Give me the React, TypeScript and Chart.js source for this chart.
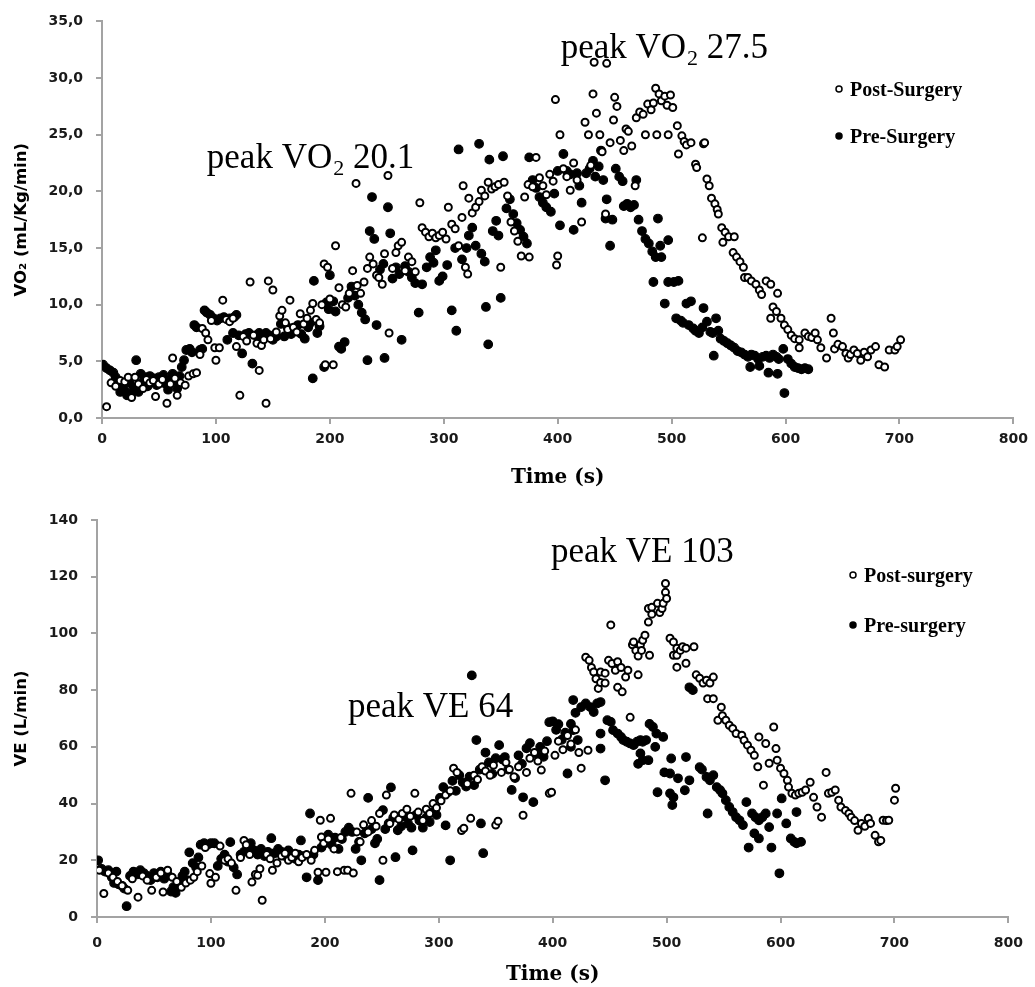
import React, { useEffect, useRef } from "react";
import { Chart, registerables } from "chart.js";

Chart.register(...registerables);

type P = [number, number];

// ---------- shared axis data ----------
const timeMin = 0;
const timeMax = 800;
const timeStep = 100;

// ---------- VO2 panel ----------
const vo2Min = 0;
const vo2Max = 35;
const vo2Step = 5;
const vo2TickLabels = ["0,0", "5,0", "10,0", "15,0", "20,0", "25,0", "30,0", "35,0"];
const vo2Title = "VO\u2082 (mL/Kg/min)";
const vo2Labels = ["Post-Surgery", "Pre-Surgery"];

const vo2Post: P[] = [
  [4,1.0],[8,3.1],[12,2.8],[16,3.3],[20,3.2],[23,3.6],[26,1.8],[29,3.6],[32,3.0],[36,2.6],[39,3.4],[42,3.1],[45,3.3],[47,1.9],[50,3.0],[53,3.4],[57,1.3],[60,3.0],[62,5.3],[64,3.5],[66,2.0],[69,3.1],[73,2.9],[76,3.7],[80,3.9],[83,4.0],[86,5.6],[88,7.9],[91,7.5],[93,6.9],[96,8.6],[99,6.2],[100,5.1],[103,6.2],[106,10.4],[109,8.7],[112,8.5],[115,8.8],[118,6.3],[121,2.0],[124,7.2],[127,6.8],[130,12.0],[133,7.3],[136,6.6],[138,4.2],[140,6.4],[142,6.9],[144,1.3],[146,12.1],[148,7.0],[150,11.3],[153,7.6],[156,9.0],[158,9.5],[161,8.4],[163,7.8],[165,10.4],[168,8.0],[171,7.6],[174,9.2],[177,8.3],[180,8.8],[183,9.5],[185,10.1],[188,8.7],[191,8.4],[193,10.0],[195,13.6],[196,4.7],[198,13.3],[200,10.5],[203,4.7],[205,15.2],[208,11.5],[211,10.0],[214,9.8],[217,11.0],[220,13.0],[223,20.7],[224,11.7],[227,11.0],[230,12.0],[233,13.2],[235,14.2],[238,13.6],[241,12.6],[243,12.4],[246,11.8],[248,14.5],[251,21.4],[252,7.5],[255,13.2],[258,14.6],[260,15.2],[263,15.5],[266,13.0],[269,14.2],[272,13.8],[275,12.9],[279,19.0],[281,16.8],[284,16.4],[287,16.0],[290,16.3],[293,15.9],[296,16.1],[299,16.4],[302,15.8],[304,18.6],[307,17.1],[310,16.7],[313,15.2],[316,17.7],[317,20.5],[319,13.3],[321,12.7],[322,19.4],[325,18.1],[328,18.6],[331,19.1],[333,20.1],[336,19.6],[339,20.8],[342,20.2],[345,20.4],[348,20.6],[350,13.3],[353,20.8],[356,19.6],[359,17.3],[362,16.5],[365,15.6],[368,14.3],[371,19.5],[374,20.6],[375,14.2],[378,20.4],[381,23.0],[384,21.2],[387,20.5],[390,19.7],[393,21.5],[396,20.9],[398,28.1],[399,13.5],[400,14.3],[402,25.0],[405,22.0],[408,21.3],[411,20.1],[414,22.5],[417,21.0],[421,17.3],[424,26.1],[427,25.0],[429,22.3],[431,28.6],[432,31.4],[434,26.9],[437,25.0],[439,23.5],[442,18.0],[443,31.3],[446,24.3],[449,26.3],[450,28.3],[452,27.5],[455,24.5],[458,23.6],[460,25.5],[462,25.3],[465,24.0],[468,20.5],[469,26.5],[472,27.0],[475,26.8],[477,25.0],[479,27.7],[482,27.2],[484,27.8],[486,29.1],[487,25.0],[489,28.6],[491,28.0],[494,28.4],[496,27.6],[497,25.0],[499,28.5],[501,27.4],[505,25.8],[506,23.3],[509,24.9],[511,24.4],[513,24.1],[517,24.3],[521,22.4],[522,22.1],[527,15.9],[528,24.2],[529,24.3],[531,21.1],[533,20.5],[535,19.4],[538,18.9],[540,18.4],[541,18.0],[544,16.8],[545,15.5],[547,16.4],[550,16.0],[554,14.6],[555,16.0],[557,14.2],[560,13.8],[563,13.3],[564,12.4],[567,12.4],[570,12.1],[574,11.8],[577,11.3],[579,10.9],[583,12.1],[587,11.8],[587,8.8],[589,9.8],[592,9.4],[593,11.0],[596,8.8],[599,8.2],[602,7.8],[605,7.3],[608,7.0],[612,6.9],[612,6.2],[617,7.5],[620,7.2],[623,7.1],[626,7.5],[628,6.9],[631,6.2],[636,5.3],[640,8.8],[642,7.5],[643,6.1],[646,6.5],[650,6.3],[653,5.7],[655,5.3],[657,5.6],[660,6.0],[663,5.7],[666,5.1],[669,5.8],[672,5.4],[675,6.0],[679,6.3],[682,4.7],[687,4.5],[691,6.0],[696,6.0],[698,6.3],[701,6.9]
];

const vo2Pre: P[] = [
  [1,4.7],[4,4.4],[7,4.2],[10,4.0],[12,3.6],[14,3.3],[16,2.3],[18,2.9],[20,2.4],[22,2.0],[24,3.1],[26,2.2],[28,2.7],[30,5.1],[32,2.3],[34,3.9],[36,3.2],[38,3.6],[40,2.8],[42,3.7],[44,3.3],[46,3.5],[48,2.9],[50,3.6],[52,3.2],[54,3.8],[56,3.0],[58,2.5],[60,3.4],[62,3.9],[64,3.3],[66,2.6],[68,3.7],[70,4.5],[72,5.1],[74,6.0],[77,6.1],[79,5.8],[81,8.2],[83,8.0],[86,6.0],[88,6.1],[90,9.5],[92,9.3],[95,9.1],[98,8.8],[101,8.6],[104,8.8],[107,8.9],[110,6.9],[112,8.8],[115,7.5],[116,8.9],[118,9.1],[120,7.3],[123,5.7],[126,7.4],[129,7.5],[132,4.8],[135,7.3],[138,7.5],[141,7.1],[144,7.5],[147,7.3],[150,6.9],[153,7.2],[157,8.3],[160,7.2],[163,8.0],[166,7.4],[169,7.9],[172,8.2],[175,7.4],[178,7.0],[181,8.0],[183,8.4],[185,3.5],[186,12.1],[189,7.5],[191,8.1],[195,4.5],[197,10.2],[199,9.6],[200,12.6],[203,10.3],[205,9.4],[208,6.3],[210,6.1],[213,6.7],[216,10.6],[219,11.6],[222,10.8],[225,10.0],[228,9.3],[231,8.7],[233,5.1],[235,16.5],[237,19.5],[239,15.8],[241,8.2],[244,13.1],[247,13.6],[248,5.3],[251,18.6],[253,16.3],[255,12.3],[258,13.3],[261,12.7],[263,6.9],[266,13.4],[269,12.9],[272,12.4],[275,11.9],[278,9.3],[281,11.8],[285,13.3],[288,14.2],[291,13.7],[293,14.8],[296,12.1],[299,12.5],[303,13.5],[307,9.5],[310,15.0],[311,7.7],[313,23.7],[316,14.0],[320,15.0],[322,16.1],[325,16.8],[328,15.2],[331,24.2],[333,14.5],[336,13.8],[337,9.8],[339,6.5],[340,22.8],[343,16.5],[346,17.4],[348,16.1],[350,10.6],[352,23.1],[355,18.5],[358,19.3],[361,18.0],[364,17.2],[367,16.6],[370,16.0],[373,15.4],[375,23.0],[378,21.0],[381,20.3],[384,19.5],[387,19.0],[390,18.6],[394,18.2],[397,19.8],[400,21.8],[402,17.0],[405,23.3],[408,21.8],[411,21.5],[414,16.6],[417,21.6],[419,20.5],[421,19.0],[425,21.6],[428,22.0],[431,22.7],[433,21.3],[436,22.2],[438,23.6],[440,21.0],[442,17.6],[443,19.3],[446,15.2],[448,17.5],[451,22.0],[454,21.3],[457,20.9],[458,18.7],[461,18.9],[464,18.6],[467,18.8],[469,21.0],[471,17.5],[474,16.5],[477,15.8],[480,15.4],[483,14.7],[484,12.0],[486,14.2],[488,17.6],[490,15.2],[491,14.2],[494,10.1],[497,15.7],[497,12.0],[502,12.0],[504,8.8],[506,12.1],[508,8.6],[510,8.4],[513,10.1],[515,8.2],[517,10.3],[519,7.9],[521,7.7],[524,7.5],[527,8.0],[528,9.7],[531,8.5],[534,7.6],[536,7.5],[537,5.5],[539,8.8],[541,7.7],[543,7.0],[546,6.8],[549,6.6],[552,6.4],[555,6.2],[558,5.9],[561,5.8],[564,5.6],[567,5.4],[569,4.5],[570,5.6],[573,5.5],[576,5.2],[577,4.6],[580,5.4],[583,5.5],[585,4.0],[586,5.3],[589,5.6],[592,5.4],[593,3.9],[594,5.2],[598,6.1],[599,2.2],[602,5.2],[605,4.8],[608,4.5],[611,4.4],[614,4.3],[617,4.4],[620,4.3]
];

const vo2Notes = [
  { x: 92, y: 22.1, main: "peak VO", sub: "2", tail: " 20.1" },
  { x: 402.6, y: 31.75, main: "peak VO", sub: "2", tail: " 27.5" },
];

// ---------- VE panel ----------
const veMin = 0;
const veMax = 140;
const veStep = 20;
const veTickLabels = ["0", "20", "40", "60", "80", "100", "120", "140"];
const veTitle = "VE (L/min)";
const veLabels = ["Post-surgery", "Pre-surgery"];

const vePost: P[] = [
  [2,16.5],[6,8.3],[10,15.5],[14,14.0],[18,12.5],[22,11.0],[27,9.4],[31,13.5],[36,7.0],[40,14.5],[44,13.0],[48,9.4],[52,14.0],[56,15.5],[58,8.8],[62,16.5],[66,14.0],[70,12.5],[74,10.5],[78,12.0],[82,13.0],[85,14.0],[88,16.0],[92,18.0],[95,24.5],[99,15.3],[100,11.9],[104,14.0],[108,25.0],[112,20.0],[115,20.5],[118,19.0],[122,9.4],[126,21.0],[129,27.0],[131,25.5],[134,22.0],[136,12.3],[139,15.0],[141,14.7],[143,17.0],[145,5.9],[149,22.0],[152,20.5],[154,16.5],[158,19.0],[162,21.5],[165,22.5],[168,20.0],[171,21.0],[174,22.5],[177,19.5],[180,21.0],[184,22.0],[188,20.0],[191,23.5],[194,15.8],[196,34.1],[197,28.2],[199,26.0],[201,15.8],[203,27.5],[205,34.8],[208,24.0],[211,16.0],[214,28.0],[217,16.5],[220,16.5],[223,43.6],[225,15.5],[228,30.0],[231,26.5],[234,32.5],[238,30.0],[241,34.0],[245,32.0],[248,36.5],[251,20.0],[254,43.0],[257,33.0],[261,36.0],[265,34.5],[268,36.5],[272,38.0],[275,35.5],[279,43.6],[282,37.0],[286,34.0],[289,38.0],[292,36.5],[295,40.0],[298,38.5],[302,41.0],[306,43.0],[310,44.5],[313,52.5],[316,51.0],[320,30.5],[322,31.3],[325,47.0],[328,34.8],[331,50.0],[334,48.5],[338,53.0],[341,51.5],[345,50.0],[348,53.5],[350,32.4],[352,33.8],[355,51.0],[359,54.5],[362,52.0],[366,49.5],[370,53.0],[374,35.9],[377,51.0],[380,56.0],[384,58.0],[387,55.0],[390,51.8],[393,58.5],[397,43.6],[399,44.0],[402,57.0],[405,62.0],[409,59.0],[413,64.0],[416,61.0],[420,66.0],[423,58.0],[425,52.5],[429,91.6],[431,58.8],[432,90.5],[434,88.0],[436,86.4],[438,84.0],[440,80.6],[442,86.4],[442,82.7],[446,86.0],[446,82.5],[449,90.5],[451,103.0],[452,89.4],[455,87.0],[457,90.0],[457,81.0],[460,88.0],[461,79.4],[464,84.6],[466,87.0],[468,70.4],[470,96.0],[471,97.0],[473,94.0],[475,92.0],[475,85.4],[477,96.0],[478,94.0],[479,97.6],[481,99.4],[484,104.0],[484,108.8],[485,92.3],[487,109.2],[487,106.8],[492,110.6],[494,107.4],[496,108.8],[497,110.6],[499,114.5],[499,117.6],[500,112.3],[503,98.3],[506,97.0],[506,92.3],[509,94.8],[509,92.3],[509,88.1],[512,94.0],[514,95.3],[517,94.8],[517,89.5],[524,95.3],[526,85.4],[529,84.2],[532,82.5],[535,83.5],[536,77.0],[538,82.5],[541,84.6],[541,77.0],[545,69.4],[548,74.0],[549,71.0],[552,69.4],[555,67.6],[558,66.5],[561,64.7],[566,64.1],[568,62.3],[571,60.6],[574,58.8],[577,57.0],[580,53.0],[581,63.5],[585,46.5],[587,61.2],[590,54.2],[594,67.0],[596,59.4],[597,55.3],[600,52.5],[603,50.6],[606,48.2],[607,45.8],[610,43.6],[613,43.0],[616,43.6],[619,44.0],[622,44.8],[626,47.5],[629,42.2],[632,38.8],[636,35.2],[640,51.0],[642,43.6],[645,44.0],[648,44.8],[651,41.2],[653,38.8],[657,37.6],[660,36.5],[662,35.2],[665,34.0],[668,30.6],[671,33.0],[674,32.0],[677,34.8],[679,33.0],[683,28.8],[686,26.5],[688,27.0],[690,34.1],[693,34.0],[695,34.1],[700,41.2],[701,45.4]
];

const vePre: P[] = [
  [1,20.0],[4,17.0],[7,16.0],[10,16.5],[13,14.0],[15,12.0],[17,16.0],[19,11.5],[22,11.0],[24,10.0],[26,3.8],[29,14.5],[32,16.0],[35,15.0],[38,16.5],[41,15.5],[44,14.5],[47,13.0],[50,15.5],[53,14.0],[56,16.0],[59,13.5],[62,15.0],[65,9.0],[67,10.5],[69,8.5],[71,11.0],[73,12.0],[75,14.5],[77,16.0],[79,13.0],[81,22.8],[84,19.0],[87,17.5],[89,21.0],[91,25.5],[94,26.0],[97,25.5],[100,26.0],[103,26.0],[106,18.0],[109,20.5],[112,22.0],[115,19.5],[117,26.4],[120,17.5],[123,15.0],[126,22.0],[129,23.0],[132,24.5],[135,26.0],[138,23.5],[141,22.0],[144,24.0],[147,21.5],[150,23.0],[153,27.8],[156,22.5],[159,24.0],[162,23.0],[165,21.5],[168,23.5],[171,22.0],[174,20.5],[177,22.0],[179,27.0],[181,21.5],[184,14.0],[187,36.5],[190,22.0],[194,13.0],[197,24.5],[200,26.0],[203,29.0],[206,25.5],[209,28.0],[212,24.0],[215,27.5],[218,30.0],[221,31.5],[224,30.0],[227,24.0],[230,26.5],[232,20.0],[235,29.5],[238,42.0],[241,31.0],[244,26.0],[246,27.5],[248,13.0],[251,37.7],[253,31.0],[256,33.0],[258,45.7],[260,35.0],[262,21.1],[264,30.6],[267,32.0],[270,35.5],[273,33.0],[276,31.5],[277,23.5],[280,36.0],[283,34.0],[286,31.5],[289,35.0],[292,33.5],[295,37.0],[298,36.0],[301,42.0],[304,45.8],[306,32.3],[308,44.0],[310,20.0],[312,48.0],[315,44.5],[318,50.0],[321,47.5],[324,46.0],[327,49.5],[329,85.2],[331,46.5],[333,62.4],[336,52.0],[337,33.0],[339,22.5],[341,58.0],[344,54.5],[347,50.5],[350,56.0],[353,60.6],[356,55.5],[358,56.4],[361,52.0],[364,44.8],[367,49.0],[370,57.0],[373,54.0],[374,42.2],[377,59.5],[380,61.3],[383,40.5],[386,57.5],[389,60.0],[392,56.5],[395,62.0],[397,68.7],[400,69.0],[403,66.0],[405,68.0],[408,62.5],[411,65.0],[413,50.6],[416,68.1],[416,60.0],[418,76.5],[418,65.9],[420,72.0],[422,62.4],[425,74.0],[429,75.3],[433,74.0],[436,72.3],[439,75.3],[442,75.8],[442,64.7],[442,59.4],[446,48.2],[448,69.4],[451,68.8],[453,65.9],[457,64.7],[460,63.5],[462,62.4],[465,61.8],[468,61.2],[471,60.6],[474,61.8],[475,54.0],[477,62.4],[477,57.7],[479,61.8],[479,55.3],[482,62.4],[484,55.3],[485,68.1],[488,67.0],[490,60.0],[491,64.7],[492,44.0],[497,63.5],[498,51.0],[503,50.6],[503,43.6],[504,55.9],[505,39.5],[506,42.2],[510,48.9],[516,44.7],[517,56.4],[520,48.2],[520,81.0],[523,80.0],[529,52.8],[531,52.0],[535,49.4],[536,36.5],[538,48.2],[541,50.0],[544,45.8],[547,44.7],[549,43.6],[552,41.2],[555,38.8],[558,37.0],[561,35.2],[564,34.1],[567,32.4],[570,40.5],[572,24.5],[575,36.5],[577,29.5],[578,35.2],[581,34.1],[581,27.7],[584,35.2],[587,36.5],[590,31.7],[592,24.5],[597,36.5],[599,15.4],[601,41.8],[605,33.0],[609,27.7],[612,26.5],[614,26.0],[614,37.0],[618,26.5]
];

const veNotes = [
  { x: 398.5, y: 125.2, main: "peak VE 103", sub: "", tail: "" },
  { x: 220.3, y: 70.5, main: "peak VE 64", sub: "", tail: "" },
];

// ---------- styling ----------
const AXIS_GREY = "#a3a3a3";
const TICK_FONT = { family: "'DejaVu Sans'", weight: "bold" as const, size: 14 };
const NOTE_FONT = "35px 'Liberation Serif'";
const SUB_FONT = "22px 'Liberation Serif'";
const LEGEND_FONT = "bold 20px 'Liberation Serif'";

interface PanelCfg {
  height: number;
  post: P[];
  pre: P[];
  labels: string[];
  yMin: number;
  yMax: number;
  yStep: number;
  yTickLabels: string[];
  yTitle: string;
  notes: { x: number; y: number; main: string; sub: string; tail: string }[];
  pad: { left: number; right: number; top: number };
  yAxisWidth: number;
  xAxisHeight: number;
  xTickPad: number;
  legendX: number;
  legendY: number[];
}

function overlayPlugin(cfg: PanelCfg) {
  return {
    id: "overlay",
    afterDraw(chart: any) {
      const ctx: CanvasRenderingContext2D = chart.ctx;
      const xs = chart.scales.x;
      const ys = chart.scales.y;
      ctx.save();
      ctx.fillStyle = "#000";
      ctx.textAlign = "left";
      ctx.textBaseline = "alphabetic";
      for (const n of cfg.notes) {
        let px = xs.getPixelForValue(n.x);
        const py = ys.getPixelForValue(n.y);
        ctx.font = NOTE_FONT;
        ctx.fillText(n.main, px, py);
        px += ctx.measureText(n.main).width;
        if (n.sub) {
          ctx.font = SUB_FONT;
          ctx.fillText(n.sub, px + 1, py + 7);
          px += ctx.measureText(n.sub).width + 1;
          ctx.font = NOTE_FONT;
          ctx.fillText(n.tail, px, py);
        }
      }
      // legend
      ctx.font = LEGEND_FONT;
      ctx.textBaseline = "middle";
      chart.data.datasets.forEach((ds: any, i: number) => {
        const cx = cfg.legendX;
        const cy = cfg.legendY[i];
        ctx.beginPath();
        ctx.arc(cx, cy - 2, 3, 0, Math.PI * 2);
        ctx.fillStyle = ds.pointBackgroundColor;
        ctx.fill();
        ctx.lineWidth = 1.5;
        ctx.strokeStyle = "#000";
        ctx.stroke();
        ctx.fillStyle = "#000";
        ctx.fillText(ds.label, cx + 11, cy);
      });
      ctx.restore();
    },
  };
}

function buildChart(canvas: HTMLCanvasElement, cfg: PanelCfg) {
  return new Chart(canvas, {
    type: "scatter",
    data: {
      datasets: [
        {
          label: cfg.labels[0],
          data: cfg.post.map(([x, y]) => ({ x, y })),
          pointStyle: "circle",
          pointRadius: 3.5,
          pointHoverRadius: 3.5,
          pointBorderWidth: 2,
          pointBackgroundColor: "#ffffff",
          pointBorderColor: "#000000",
          showLine: false,
        } as any,
        {
          label: cfg.labels[1],
          data: cfg.pre.map(([x, y]) => ({ x, y })),
          pointStyle: "circle",
          pointRadius: 4.3,
          pointHoverRadius: 4.3,
          pointBorderWidth: 1.2,
          pointBackgroundColor: "#000000",
          pointBorderColor: "#000000",
          showLine: false,
        } as any,
      ],
    },
    options: {
      animation: false,
      responsive: false,
      events: [],
      layout: { padding: { left: cfg.pad.left, right: cfg.pad.right, top: cfg.pad.top, bottom: 0 } },
      plugins: { legend: { display: false }, tooltip: { enabled: false }, title: { display: false } },
      scales: {
        x: {
          type: "linear",
          min: timeMin,
          max: timeMax,
          ticks: { stepSize: timeStep, font: TICK_FONT, color: "#1a1a1a", padding: cfg.xTickPad, maxRotation: 0 },
          grid: { display: true, drawOnChartArea: false, drawTicks: true, tickLength: 6, color: AXIS_GREY, lineWidth: 2 },
          border: { display: true, color: AXIS_GREY, width: 2 },
          title: {
            display: true,
            text: "Time (s)",
            color: "#000",
            font: { family: "'DejaVu Serif'", weight: "bold", size: 20 },
            padding: { top: 0, bottom: 0 },
          },
          afterFit: (s: any) => {
            s.height = cfg.xAxisHeight;
          },
        },
        y: {
          type: "linear",
          min: cfg.yMin,
          max: cfg.yMax,
          ticks: {
            stepSize: cfg.yStep,
            font: TICK_FONT,
            color: "#1a1a1a",
            padding: 13,
            callback: (_v: any, i: number) => cfg.yTickLabels[i],
          },
          grid: { display: true, drawOnChartArea: false, drawTicks: true, tickLength: 6, color: AXIS_GREY, lineWidth: 2 },
          border: { display: true, color: AXIS_GREY, width: 2 },
          title: {
            display: true,
            text: cfg.yTitle,
            color: "#000",
            font: { family: "'DejaVu Sans'", weight: "bold", size: 16.5 },
            padding: { top: 12, bottom: 0 },
          },
          afterFit: (s: any) => {
            s.width = cfg.yAxisWidth;
          },
        },
      },
    } as any,
    plugins: [overlayPlugin(cfg)],
  });
}

const topCfg: PanelCfg = {
  height: 490,
  post: vo2Post,
  pre: vo2Pre,
  labels: vo2Labels,
  yMin: vo2Min,
  yMax: vo2Max,
  yStep: vo2Step,
  yTickLabels: vo2TickLabels,
  yTitle: vo2Title,
  notes: vo2Notes,
  pad: { left: 0, right: 19, top: 20 },
  yAxisWidth: 102,
  xAxisHeight: 72,
  xTickPad: 7,
  legendX: 839,
  legendY: [91, 138],
};

const bottomCfg: PanelCfg = {
  height: 497,
  post: vePost,
  pre: vePre,
  labels: veLabels,
  yMin: veMin,
  yMax: veMax,
  yStep: veStep,
  yTickLabels: veTickLabels,
  yTitle: veTitle,
  notes: veNotes,
  pad: { left: 0, right: 18, top: 30 },
  yAxisWidth: 97,
  xAxisHeight: 70,
  xTickPad: 12,
  legendX: 853,
  legendY: [87, 137],
};

export default function App() {
  const topRef = useRef<HTMLCanvasElement | null>(null);
  const botRef = useRef<HTMLCanvasElement | null>(null);

  useEffect(() => {
    const charts: Chart[] = [];
    if (topRef.current) charts.push(buildChart(topRef.current, topCfg));
    if (botRef.current) charts.push(buildChart(botRef.current, bottomCfg));
    return () => {
      charts.forEach((c) => c.destroy());
    };
  }, []);

  return (
    <div style={{ position: "absolute", left: 0, top: 0, width: 1035, height: 987, background: "#fff" }}>
      <canvas ref={topRef} width={1035} height={topCfg.height} style={{ display: "block", width: 1035, height: topCfg.height }} />
      <canvas ref={botRef} width={1035} height={bottomCfg.height} style={{ display: "block", width: 1035, height: bottomCfg.height }} />
    </div>
  );
}
